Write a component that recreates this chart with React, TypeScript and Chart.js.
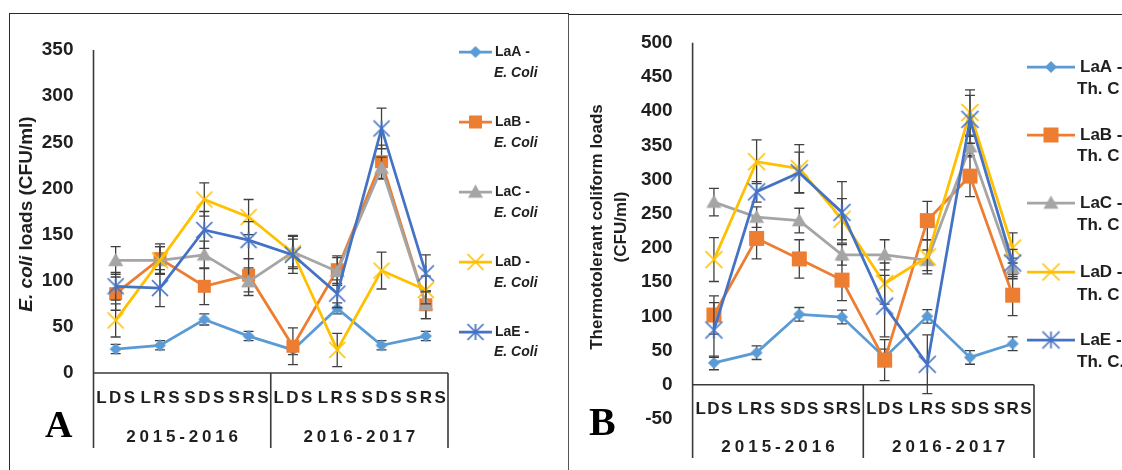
import React, { useEffect, useRef } from 'react';
import { Chart, registerables } from 'chart.js';
Chart.register(...registerables);

// ---------- data ----------
const categories = ['LDS', 'LRS', 'SDS', 'SRS', 'LDS', 'LRS', 'SDS', 'SRS'];
const years = ['2015-2016', '2016-2017'];
const seriesNames = ['LaA -', 'LaB -', 'LaC -', 'LaD -', 'LaE -'];
const ecoliSuffix = ['E. Coli', 'E. Coli', 'E. Coli', 'E. Coli', 'E. Coli'];
const thcSuffix = ['Th. C', 'Th. C', 'Th. C', 'Th. C', 'Th. C.'];
const colors = ['#5B9BD5', '#ED7D31', '#A5A5A5', '#FFC000', '#4472C4'];
const markerStyles = ['diamond', 'square', 'triangle', 'x', 'star'];

const ecoliTicks = { min: 0, max: 350, step: 50 };
const thcTicks = { min: -50, max: 500, step: 50 };

const ecoliLaA = [26, 30, 58, 40, 25, 70, 30, 40];
const ecoliLaB = [86, 124, 94, 106, 29, 112, 229, 74];
const ecoliLaC = [122, 122, 128, 99, 131, 110, 222, 74];
const ecoliLaD = [57, 122, 188, 169, 130, 25, 111, 90];
const ecoliLaE = [94, 92, 155, 144, 128, 86, 265, 108];

const ecoliLaAErr = [5, 5, 6, 5, 5, 6, 5, 5];
const ecoliLaBErr = [18, 16, 20, 18, 20, 15, 18, 15];
const ecoliLaCErr = [15, 15, 15, 15, 18, 15, 12, 15];
const ecoliLaDErr = [18, 15, 18, 19, 15, 18, 20, 15];
const ecoliLaEErr = [15, 20, 20, 20, 20, 15, 22, 20];

const thcLaA = [32, 47, 103, 99, 40, 100, 40, 60];
const thcLaB = [102, 214, 184, 153, 36, 240, 305, 131];
const thcLaC = [267, 245, 240, 190, 190, 182, 348, 170];
const thcLaD = [183, 326, 316, 242, 148, 187, 398, 200];
const thcLaE = [80, 282, 310, 252, 115, 30, 388, 178];

const thcLaAErr = [10, 10, 10, 10, 12, 10, 10, 10];
const thcLaBErr = [28, 30, 28, 30, 30, 28, 30, 30];
const thcLaCErr = [20, 15, 18, 15, 22, 15, 15, 15];
const thcLaDErr = [32, 32, 35, 30, 30, 25, 33, 22];
const thcLaEErr = [40, 15, 30, 45, 45, 43, 35, 20];

const SANS = "'Liberation Sans', Arial, sans-serif";
const SERIF = "'Liberation Serif', 'Times New Roman', serif";
const TEXT = '#1f1f1f';
const AXIS = '#3a3a3a';

function makeMarker(style: string, color: string, h: number): HTMLCanvasElement {
  const s = Math.ceil(h * 2 + 6);
  const c = document.createElement('canvas');
  c.width = s;
  c.height = s;
  const ctx = c.getContext('2d')!;
  const m = s / 2;
  ctx.fillStyle = color;
  ctx.strokeStyle = color;
  ctx.lineWidth = 1.7;
  ctx.beginPath();
  if (style === 'diamond') {
    ctx.moveTo(m, m - h); ctx.lineTo(m + h, m); ctx.lineTo(m, m + h); ctx.lineTo(m - h, m); ctx.closePath(); ctx.fill();
  } else if (style === 'square') {
    ctx.rect(m - h, m - h, 2 * h, 2 * h); ctx.fill();
  } else if (style === 'triangle') {
    ctx.moveTo(m, m - h); ctx.lineTo(m + h, m + h * 0.75); ctx.lineTo(m - h, m + h * 0.75); ctx.closePath(); ctx.fill();
  } else if (style === 'x') {
    ctx.moveTo(m - h, m - h); ctx.lineTo(m + h, m + h); ctx.moveTo(m + h, m - h); ctx.lineTo(m - h, m + h); ctx.stroke();
  } else {
    ctx.moveTo(m - h, m - h); ctx.lineTo(m + h, m + h); ctx.moveTo(m + h, m - h); ctx.lineTo(m - h, m + h);
    ctx.moveTo(m, m - h); ctx.lineTo(m, m + h); ctx.stroke();
  }
  return c;
}

function drawSpaced(ctx: CanvasRenderingContext2D, text: string, cx: number, y: number, spacing: number) {
  const chars = text.split('');
  const widths = chars.map((ch) => ctx.measureText(ch).width);
  const total = widths.reduce((a, b) => a + b, 0) + spacing * (chars.length - 1);
  let x = cx - total / 2;
  ctx.textAlign = 'left';
  chars.forEach((ch, i) => {
    ctx.fillText(ch, x, y);
    x += widths[i] + spacing;
  });
}

type PanelCfg = {
  values: number[][];
  errors: number[][];
  ticks: { min: number; max: number; step: number };
  area: { left: number; right: number; top: number; bottom: number };
  width: number;
  height: number;
  tableBottom: number;
  catY: number;
  yearY: number;
  catFont: string;
  yearFont: string;
  catSpacing: number;
  yearSpacing: number;
  markerSizes: number[];
  legend: { x1: number; x2: number; tx: number; tx2: number; y1: number[]; y2: number[]; font: string; font2: string; suffix: string[] };
  drawTitle: (ctx: CanvasRenderingContext2D) => void;
  letter: { text: string; x: number; y: number; size: number };
};

function buildChart(canvas: HTMLCanvasElement, p: PanelCfg) {
  const markers = markerStyles.map((st, i) => makeMarker(st, colors[i], p.markerSizes[i]));
  const framePlugin = {
    id: 'frame',
    beforeDatasetDraw(chart: any, args: any) {
      const d = args.index;
      const ctx = chart.ctx;
      const xs = chart.scales.x;
      const ys = chart.scales.y;
      ctx.save();
      ctx.strokeStyle = '#404040';
      ctx.lineWidth = 1.3;
      p.values[d].forEach((v, i) => {
        const e = p.errors[d][i];
        const x = xs.getPixelForValue(i);
        const y1 = ys.getPixelForValue(v + e);
        const y2 = ys.getPixelForValue(v - e);
        ctx.beginPath();
        ctx.moveTo(x, y1); ctx.lineTo(x, y2);
        ctx.moveTo(x - 5, y1); ctx.lineTo(x + 5, y1);
        ctx.moveTo(x - 5, y2); ctx.lineTo(x + 5, y2);
        ctx.stroke();
      });
      ctx.restore();
    },
    afterDraw(chart: any) {
      const ctx = chart.ctx as CanvasRenderingContext2D;
      const xs = chart.scales.x;
      const ys = chart.scales.y;
      const a = chart.chartArea;
      const y0 = ys.getPixelForValue(0);
      const n = categories.length;
      const slot = (a.right - a.left) / n;
      ctx.save();
      ctx.strokeStyle = AXIS;
      ctx.lineWidth = 1.6;
      ctx.beginPath();
      ctx.moveTo(a.left, a.top); ctx.lineTo(a.left, p.tableBottom);
      ctx.moveTo(a.left, y0); ctx.lineTo(a.right, y0);
      ctx.moveTo(a.left + slot * 4, y0); ctx.lineTo(a.left + slot * 4, p.tableBottom);
      ctx.moveTo(a.right, y0); ctx.lineTo(a.right, p.tableBottom);
      ctx.stroke();
      // category labels
      ctx.fillStyle = TEXT;
      ctx.textBaseline = 'middle';
      ctx.font = p.catFont;
      categories.forEach((c, i) => drawSpaced(ctx, c, xs.getPixelForValue(i), p.catY, p.catSpacing));
      ctx.font = p.yearFont;
      years.forEach((yr, j) => drawSpaced(ctx, yr, a.left + slot * (4 * j + 2), p.yearY, p.yearSpacing));
      // legend
      const L = p.legend;
      seriesNames.forEach((nm, i) => {
        ctx.strokeStyle = colors[i];
        ctx.lineWidth = 2.75;
        ctx.beginPath();
        ctx.moveTo(L.x1, L.y1[i]); ctx.lineTo(L.x2, L.y1[i]);
        ctx.stroke();
        const mk = markers[i];
        ctx.drawImage(mk, (L.x1 + L.x2) / 2 - mk.width / 2, L.y1[i] - mk.height / 2);
        ctx.fillStyle = TEXT;
        ctx.textAlign = 'left';
        ctx.textBaseline = 'middle';
        ctx.font = L.font;
        ctx.fillText(nm, L.tx, L.y1[i]);
        ctx.font = L.font2;
        ctx.fillText(L.suffix[i], L.tx2, L.y2[i]);
      });
      // axis title
      p.drawTitle(ctx);
      // panel letter
      ctx.fillStyle = '#000';
      ctx.font = `bold ${p.letter.size}px ${SERIF}`;
      ctx.textAlign = 'left';
      ctx.textBaseline = 'alphabetic';
      ctx.fillText(p.letter.text, p.letter.x, p.letter.y);
      ctx.restore();
    },
  };

  return new Chart(canvas, {
    type: 'line',
    data: {
      labels: categories,
      datasets: p.values.map((vals, i) => ({
        label: seriesNames[i],
        data: vals,
        borderColor: colors[i],
        backgroundColor: colors[i],
        borderWidth: 2.75,
        pointStyle: markers[i] as any,
        pointRadius: 6,
        tension: 0,
        fill: false,
        order: 5 - i,
      })),
    },
    options: {
      animation: false,
      responsive: false,
      layout: {
        padding: {
          left: 0,
          right: p.width - p.area.right,
          top: p.area.top,
          bottom: p.height - p.area.bottom,
        },
      },
      plugins: { legend: { display: false }, tooltip: { enabled: false }, title: { display: false } },
      scales: {
        x: { type: 'category', display: false, offset: true },
        y: {
          min: p.ticks.min,
          max: p.ticks.max,
          afterFit: (s: any) => { s.width = p.area.left; },
          grid: { display: false, drawTicks: false },
          border: { display: false },
          ticks: {
            stepSize: p.ticks.step,
            padding: 20,
            color: TEXT,
            font: { family: SANS, size: 19, weight: 'bold' },
          },
        },
      },
    },
    plugins: [framePlugin],
  });
}

const panelA: PanelCfg = {
  values: [ecoliLaA, ecoliLaB, ecoliLaC, ecoliLaD, ecoliLaE],
  errors: [ecoliLaAErr, ecoliLaBErr, ecoliLaCErr, ecoliLaDErr, ecoliLaEErr],
  ticks: ecoliTicks,
  area: { left: 93.5, right: 448, top: 50, bottom: 373 },
  width: 566,
  height: 470,
  tableBottom: 448,
  catY: 398,
  yearY: 437,
  catFont: `bold 17px ${SANS}`,
  yearFont: `bold 17px ${SANS}`,
  catSpacing: 2.5,
  yearSpacing: 3.8,
  markerSizes: [6, 6.5, 7.5, 8, 8],
  legend: {
    x1: 459, x2: 492, tx: 495, tx2: 494,
    y1: [52, 122, 192, 262, 332],
    y2: [73, 143, 213, 283, 352],
    font: `bold 14px ${SANS}`,
    font2: `italic bold 14px ${SANS}`,
    suffix: ecoliSuffix,
  },
  drawTitle: (ctx) => {
    ctx.save();
    ctx.translate(27, 214);
    ctx.rotate(-Math.PI / 2);
    ctx.fillStyle = TEXT;
    ctx.textBaseline = 'middle';
    ctx.textAlign = 'left';
    const parts = [
      { t: 'E. coli', f: `italic bold 19px ${SANS}` },
      { t: ' loads (CFU/ml)', f: `bold 19px ${SANS}` },
    ];
    const widths = parts.map((pt) => { ctx.font = pt.f; return ctx.measureText(pt.t).width; });
    let x = -(widths[0] + widths[1]) / 2;
    parts.forEach((pt, i) => { ctx.font = pt.f; ctx.fillText(pt.t, x, 0); x += widths[i]; });
    ctx.restore();
  },
  letter: { text: 'A', x: 45, y: 437, size: 38 },
};

const panelB: PanelCfg = {
  values: [thcLaA, thcLaB, thcLaC, thcLaD, thcLaE],
  errors: [thcLaAErr, thcLaBErr, thcLaCErr, thcLaDErr, thcLaEErr],
  ticks: thcTicks,
  area: { left: 126.6, right: 468, top: 42.7, bottom: 419 },
  width: 556,
  height: 470,
  tableBottom: 458,
  catY: 409,
  yearY: 447,
  catFont: `bold 17px ${SANS}`,
  yearFont: `bold 17px ${SANS}`,
  catSpacing: 1.5,
  yearSpacing: 4,
  markerSizes: [6, 7.5, 7.5, 8.5, 8.5],
  legend: {
    x1: 461, x2: 509, tx: 514, tx2: 511,
    y1: [67, 135, 203, 272, 340],
    y2: [89, 156, 225, 295, 362],
    font: `bold 17px ${SANS}`,
    font2: `bold 17px ${SANS}`,
    suffix: thcSuffix,
  },
  drawTitle: (ctx) => {
    ctx.save();
    ctx.fillStyle = TEXT;
    ctx.textBaseline = 'middle';
    ctx.textAlign = 'center';
    ctx.font = `bold 17px ${SANS}`;
    ctx.translate(31, 227);
    ctx.rotate(-Math.PI / 2);
    ctx.fillText('Thermotolerant coliform loads', 0, 0);
    ctx.fillText('(CFU/ml)', 0, 24);
    ctx.restore();
  },
  letter: { text: 'B', x: 23, y: 435, size: 40 },
};

export default function App() {
  const refA = useRef<HTMLCanvasElement>(null);
  const refB = useRef<HTMLCanvasElement>(null);
  useEffect(() => {
    const cA = buildChart(refA.current!, panelA);
    const cB = buildChart(refB.current!, panelB);
    return () => { cA.destroy(); cB.destroy(); };
  }, []);
  return (
    <div style={{ position: 'fixed', left: 0, top: 0, width: 1122, height: 470, overflow: 'hidden', background: '#fff' }}>
      <div style={{ position: 'absolute', left: 9, top: 13, width: 560, height: 480, border: '1.5px solid #2a2a2a', boxSizing: 'border-box' }} />
      <div style={{ position: 'absolute', left: 568, top: 14, width: 600, height: 480, borderTop: '1.5px solid #2a2a2a', borderLeft: '1.5px solid #555', boxSizing: 'border-box' }} />
      <canvas ref={refA} width={566} height={470} style={{ position: 'absolute', left: 0, top: 0 }} />
      <canvas ref={refB} width={556} height={470} style={{ position: 'absolute', left: 566, top: 0 }} />
    </div>
  );
}
